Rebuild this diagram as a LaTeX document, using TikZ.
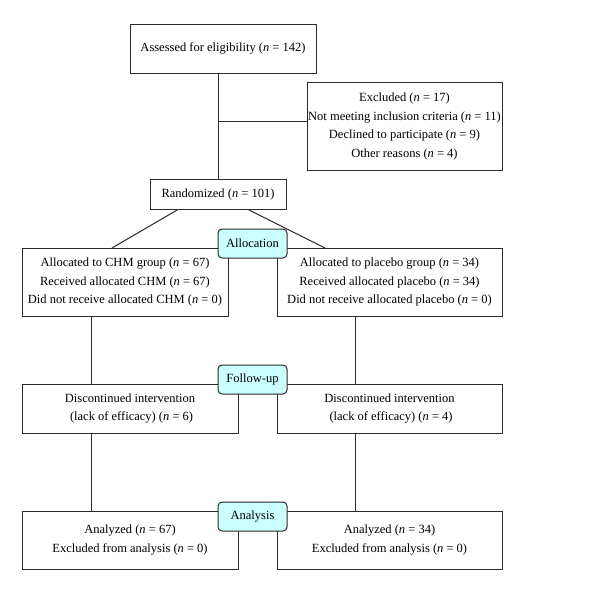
\documentclass[tikz,border=0pt]{standalone}
\usepackage{fontspec}
\setmainfont{Liberation Serif}
\definecolor{linec}{HTML}{2B2B2B}
\definecolor{labfill}{HTML}{CCFFFF}
\newcommand{\nn}{\textit{n}~=~}
\begin{document}
\begin{tikzpicture}[x=1pt,y=-1pt,
  every node/.style={font=\fontsize{12.5}{18.5}\selectfont, text=black},
  box/.style={draw=linec, line width=1pt, fill=white, align=center, inner sep=0pt},
  stage/.style={draw=linec, line width=1pt, fill=labfill, rounded corners=4pt, align=center, inner sep=0pt, minimum width=69pt, minimum height=29pt},
  conn/.style={draw=linec, line width=1pt}]
\fill[white] (0,0) rectangle (600,590);
\useasboundingbox (0,0) rectangle (600,590);

\node[box, minimum width=186pt, minimum height=49pt] (assess) at (223,48.5) {Assessed for eligibility (\nn 142)};
\node[box, minimum width=195pt, minimum height=88pt] (excl) at (404.5,126.5) {Excluded (\nn 17)\\Not meeting inclusion criteria (\nn 11)\\Declined to participate (\nn 9)\\Other reasons (\nn 4)};
\node[box, minimum width=136pt, minimum height=30pt] (rand) at (218,194.5) {Randomized (\nn 101)};

\node[box, minimum width=206pt, minimum height=68pt] (allocL) at (125,282) {Allocated to CHM group (\nn 67)\\Received allocated CHM (\nn 67)\\Did not receive allocated CHM (\nn 0)};
\node[box, minimum width=225pt, minimum height=68pt] (allocR) at (389.5,282) {Allocated to placebo group (\nn 34)\\Received allocated placebo (\nn 34)\\Did not receive allocated placebo (\nn 0)};

\node[box, minimum width=216pt, minimum height=49pt] (follL) at (130,408.5) {Discontinued intervention\\\ (lack of efficacy) (\nn 6)};
\node[box, minimum width=225pt, minimum height=49pt] (follR) at (389.5,408.5) {Discontinued intervention\\\ (lack of efficacy) (\nn 4)};

\node[box, minimum width=216pt, minimum height=58pt] (anaL) at (130,540) {Analyzed (\nn 67)\\Excluded from analysis (\nn 0)};
\node[box, minimum width=225pt, minimum height=58pt] (anaR) at (389.5,540) {Analyzed (\nn 34)\\Excluded from analysis (\nn 0)};

\node[stage] (sAlloc) at (252.5,243.5) {Allocation};
\node[stage] (sFoll) at (252.5,379.5) {Follow-up};
\node[stage] (sAna) at (252.5,516.5) {Analysis};

% connectors
\coordinate (jA) at (rand.north |- assess.south);
\coordinate (jX) at (218,121.5);
\coordinate (rL) at (178,209.5);
\coordinate (rR) at (248,209.5);
\coordinate (aL) at (112,248);
\coordinate (aR) at (325,248);
\draw[conn] (jA) -- (rand.north);
\draw[conn] (jX) -- (jX -| excl.west);
\draw[conn] (rL) -- (aL);
\draw[conn] (rR) -- (aR);
\coordinate (vL) at (91,0);
\coordinate (vR) at (355,0);
\draw[conn] (vL |- allocL.south) -- (vL |- follL.north);
\draw[conn] (vL |- follL.south) -- (vL |- anaL.north);
\draw[conn] (vR |- allocR.south) -- (vR |- follR.north);
\draw[conn] (vR |- follR.south) -- (vR |- anaR.north);
\end{tikzpicture}
\end{document}
